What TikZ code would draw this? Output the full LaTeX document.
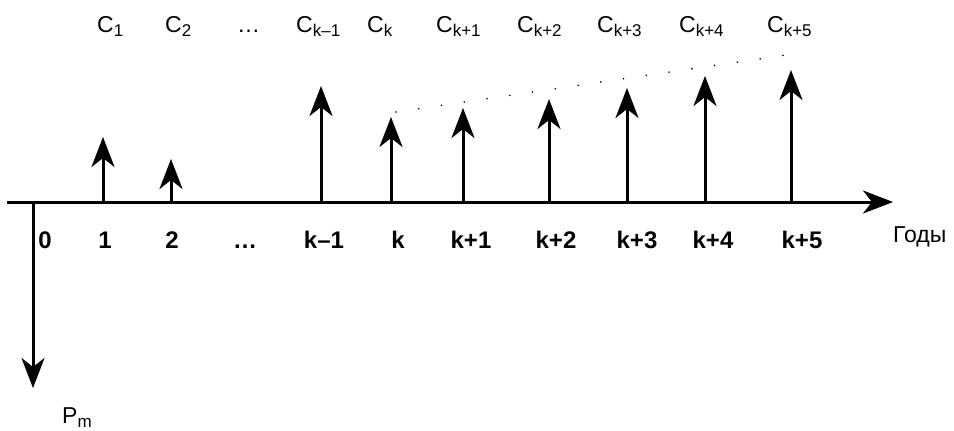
\documentclass[tikz,border=0pt]{standalone}
\usepackage{fontspec}
\setmainfont{Liberation Sans}
\usetikzlibrary{arrows.meta}
\newcommand{\lowsub}[1]{\raisebox{-4pt}{\fontsize{17}{17}\selectfont #1}}
\tikzset{
  flow/.style={line width=3pt, -{Stealth[length=30pt,width=23pt,inset=9pt]}},
  toplbl/.style={inner sep=0pt, anchor=base west, font=\fontsize{23}{23}\selectfont},
  botlbl/.style={inner sep=0pt, anchor=base, font=\fontsize{24}{24}\selectfont\bfseries},
  trend/.style={line width=1.8pt, line cap=round, dash pattern=on 0pt off 23pt}
}
\begin{document}
\begin{tikzpicture}[x=1pt,y=-1pt]
\useasboundingbox (0,0) rectangle (954,431);
% axis
\coordinate (axL) at (7,202);
\coordinate (axR) at (893,202);
\draw[flow] (axL) -- (axR);
% investment arrow
\coordinate (p0) at (33,202);
\coordinate (pt) at (33,388);
\draw[flow] (p0) -- (pt);
% cash flow arrows
\foreach \n/\x/\t in {a1/103/137, a2/171/159, ak1/321/86, ak/391/117, akp1/463/108, akp2/549/99, akp3/627/88, akp4/705/76, akp5/791/70}{
  \coordinate (b\n) at (\x,202);
  \coordinate (t\n) at (\x,\t);
  \draw[flow] (b\n) -- (t\n);
}
% dotted trend
\coordinate (ds) at (396,112);
\coordinate (de) at (786,55);
\draw[trend] (ds) -- (de);
% top labels
\node[toplbl] (c1) at (97,32) {C\lowsub{1}};
\node[toplbl] (c2) at (165,32) {C\lowsub{2}};
\node[toplbl] (cd) at (237,32) {\dots};
\node[toplbl] (ck1) at (296,32) {C\lowsub{k–1}};
\node[toplbl] (ck) at (367,32) {C\lowsub{k}};
\node[toplbl] (ckp1) at (436,32) {C\lowsub{k+1}};
\node[toplbl] (ckp2) at (517,32) {C\lowsub{k+2}};
\node[toplbl] (ckp3) at (597,32) {C\lowsub{k+3}};
\node[toplbl] (ckp4) at (679,32) {C\lowsub{k+4}};
\node[toplbl] (ckp5) at (767,32) {C\lowsub{k+5}};
% bottom labels
\node[botlbl] (l0) at (45,248) {0};
\node[botlbl] (l1) at (105,248) {1};
\node[botlbl] (l2) at (172,248) {2};
\node[botlbl] (ld) at (245,248) {\dots};
\node[botlbl] (lk1) at (324,248) {k–1};
\node[botlbl] (lk) at (398,248) {k};
\node[botlbl] (lkp1) at (471,248) {k+1};
\node[botlbl] (lkp2) at (556,248) {k+2};
\node[botlbl] (lkp3) at (637,248) {k+3};
\node[botlbl] (lkp4) at (713,248) {k+4};
\node[botlbl] (lkp5) at (802,248) {k+5};
\node[inner sep=0pt, anchor=base west, font=\fontsize{23}{23}\selectfont] (years) at (893,242) {Годы};
\node[inner sep=0pt, anchor=base west, font=\fontsize{23}{23}\selectfont] (pm) at (62,423) {P\lowsub{m}};
\end{tikzpicture}
\end{document}
